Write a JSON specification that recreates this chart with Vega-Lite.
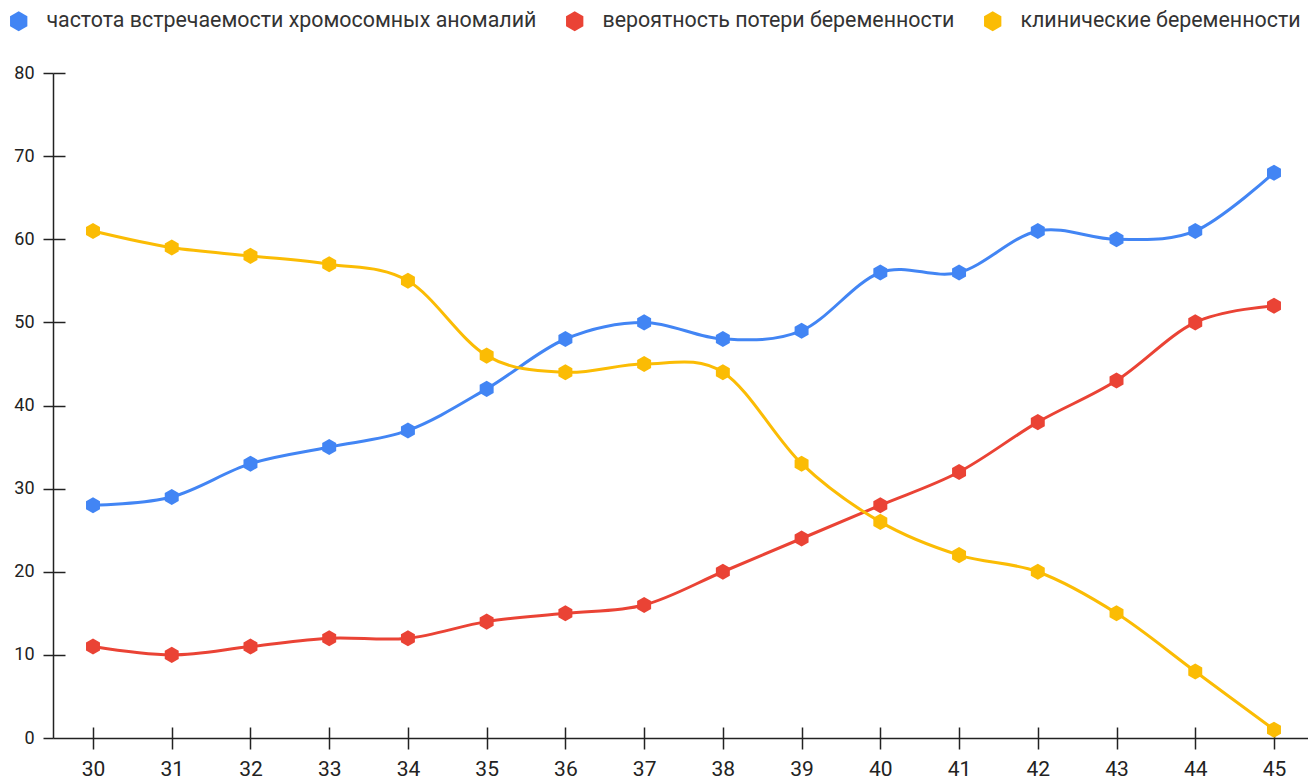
{
  "$schema": "https://vega.github.io/schema/vega-lite/v6.json",
  "width": 1255,
  "height": 665,
  "autosize": {"type": "none"},
  "padding": {"left": 53, "top": 73, "right": 0, "bottom": 46},
  "background": "white",
  "config": {
    "view": {"stroke": null},
    "font": "Roboto",
    "axis": {"grid": false, "title": null, "labelFont": "Roboto", "labelColor": "#222", "domainColor": "#222", "tickColor": "#222", "domainWidth": 1.5, "tickWidth": 1.5}
  },
  "data": {
    "values": [
      {"age": 30, "series": "частота встречаемости хромосомных аномалий", "v": 28},
      {"age": 31, "series": "частота встречаемости хромосомных аномалий", "v": 29},
      {"age": 32, "series": "частота встречаемости хромосомных аномалий", "v": 33},
      {"age": 33, "series": "частота встречаемости хромосомных аномалий", "v": 35},
      {"age": 34, "series": "частота встречаемости хромосомных аномалий", "v": 37},
      {"age": 35, "series": "частота встречаемости хромосомных аномалий", "v": 42},
      {"age": 36, "series": "частота встречаемости хромосомных аномалий", "v": 48},
      {"age": 37, "series": "частота встречаемости хромосомных аномалий", "v": 50},
      {"age": 38, "series": "частота встречаемости хромосомных аномалий", "v": 48},
      {"age": 39, "series": "частота встречаемости хромосомных аномалий", "v": 49},
      {"age": 40, "series": "частота встречаемости хромосомных аномалий", "v": 56},
      {"age": 41, "series": "частота встречаемости хромосомных аномалий", "v": 56},
      {"age": 42, "series": "частота встречаемости хромосомных аномалий", "v": 61},
      {"age": 43, "series": "частота встречаемости хромосомных аномалий", "v": 60},
      {"age": 44, "series": "частота встречаемости хромосомных аномалий", "v": 61},
      {"age": 45, "series": "частота встречаемости хромосомных аномалий", "v": 68},
      {"age": 30, "series": "вероятность потери беременности", "v": 11},
      {"age": 31, "series": "вероятность потери беременности", "v": 10},
      {"age": 32, "series": "вероятность потери беременности", "v": 11},
      {"age": 33, "series": "вероятность потери беременности", "v": 12},
      {"age": 34, "series": "вероятность потери беременности", "v": 12},
      {"age": 35, "series": "вероятность потери беременности", "v": 14},
      {"age": 36, "series": "вероятность потери беременности", "v": 15},
      {"age": 37, "series": "вероятность потери беременности", "v": 16},
      {"age": 38, "series": "вероятность потери беременности", "v": 20},
      {"age": 39, "series": "вероятность потери беременности", "v": 24},
      {"age": 40, "series": "вероятность потери беременности", "v": 28},
      {"age": 41, "series": "вероятность потери беременности", "v": 32},
      {"age": 42, "series": "вероятность потери беременности", "v": 38},
      {"age": 43, "series": "вероятность потери беременности", "v": 43},
      {"age": 44, "series": "вероятность потери беременности", "v": 50},
      {"age": 45, "series": "вероятность потери беременности", "v": 52},
      {"age": 30, "series": "клинические беременности", "v": 61},
      {"age": 31, "series": "клинические беременности", "v": 59},
      {"age": 32, "series": "клинические беременности", "v": 58},
      {"age": 33, "series": "клинические беременности", "v": 57},
      {"age": 34, "series": "клинические беременности", "v": 55},
      {"age": 35, "series": "клинические беременности", "v": 46},
      {"age": 36, "series": "клинические беременности", "v": 44},
      {"age": 37, "series": "клинические беременности", "v": 45},
      {"age": 38, "series": "клинические беременности", "v": 44},
      {"age": 39, "series": "клинические беременности", "v": 33},
      {"age": 40, "series": "клинические беременности", "v": 26},
      {"age": 41, "series": "клинические беременности", "v": 22},
      {"age": 42, "series": "клинические беременности", "v": 20},
      {"age": 43, "series": "клинические беременности", "v": 15},
      {"age": 44, "series": "клинические беременности", "v": 8},
      {"age": 45, "series": "клинические беременности", "v": 1}
    ]
  },
  "layer": [
    {
      "mark": {"type": "line", "interpolate": "cardinal", "strokeWidth": 3, "clip": false},
      "encoding": {
        "x": {"field": "age", "type": "quantitative", "scale": {"domain": [29.492, 45.432], "nice": false, "zero": false},
              "axis": {"orient": "bottom", "values": [30,31,32,33,34,35,36,37,38,39,40,41,42,43,44,45], "format": "d", "tickSize": 11, "labelPadding": 9, "labelFontSize": 21}},
        "y": {"field": "v", "type": "quantitative", "scale": {"domain": [0, 80], "nice": false},
              "axis": {"orient": "left", "values": [0,10,20,30,40,50,60,70,80], "tickSize": 10, "labelPadding": 9, "labelFontSize": 18}},
        "color": {"field": "series", "type": "nominal",
                  "scale": {"domain": ["частота встречаемости хромосомных аномалий", "вероятность потери беременности", "клинические беременности"], "range": ["#4285F4", "#EA4335", "#FBBC04"]},
                  "legend": {"orient": "none", "direction": "horizontal", "legendX": -45, "legendY": -63, "title": null,
                             "symbolType": "M0,-1L0.866,-0.5L0.866,0.5L0,1L-0.866,0.5L-0.866,-0.5Z", "symbolSize": 400, "symbolStrokeWidth": 0, "symbolOpacity": 1,
                             "labelFont": "Roboto", "labelFontSize": 21.4, "labelColor": "#333", "labelOffset": 17, "columnPadding": 27, "labelLimit": 0}},
        "order": {"field": "age"}
      }
    },
    {
      "mark": {"type": "point", "filled": true, "opacity": 1, "size": 260, "shape": "M0,-1L0.866,-0.5L0.866,0.5L0,1L-0.866,0.5L-0.866,-0.5Z", "clip": false},
      "encoding": {
        "x": {"field": "age", "type": "quantitative",
              "axis": {"orient": "bottom", "values": [30,31,32,33,34,35,36,37,38,39,40,41,42,43,44,45], "tickSize": -11, "labels": false, "domain": false}},
        "y": {"field": "v", "type": "quantitative",
              "axis": {"orient": "left", "values": [10,20,30,40,50,60,70,80], "tickSize": -12, "labels": false, "domain": false}},
        "color": {"field": "series", "type": "nominal"}
      }
    }
  ],
  "resolve": {"axis": {"x": "independent", "y": "independent"}}
}
